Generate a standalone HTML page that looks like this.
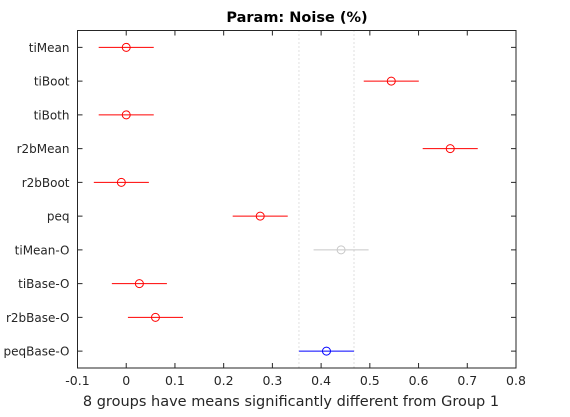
<!DOCTYPE html>
<html><head><meta charset="utf-8"><style>
body{margin:0;background:#fff;font-family:"DejaVu Sans",sans-serif}
svg text{font-family:"DejaVu Sans",sans-serif;fill:#262626}
</style></head><body>
<svg width="570" height="413" xmlns="http://www.w3.org/2000/svg">
<rect width="570" height="413" fill="#fff"/>
<text x="297" y="22" text-anchor="middle" font-weight="bold" font-size="14.5" style="fill:#000">Param: Noise (%)</text>
<g id="plot"></g>
<text x="291" y="406" text-anchor="middle" font-size="14.5">8 groups have means significantly different from Group 1</text>
</svg>
<script>
const groups=["tiMean","tiBoot","tiBoth","r2bMean","r2bBoot","peq","tiMean-O","tiBase-O","r2bBase-O","peqBase-O"];
const means=[0,0.544,0,0.665,-0.01,0.275,0.441,0.027,0.06,0.411];
const halfWidths=[0.0565,0.0565,0.0565,0.0565,0.0565,0.0565,0.0565,0.0565,0.0565,0.0565];
const status=["sig","sig","sig","sig","sig","sig","ns","sig","sig","sel"];
const xTicks=[-0.1,0,0.1,0.2,0.3,0.4,0.5,0.6,0.7,0.8];
const xTickLabels=["-0.1","0","0.1","0.2","0.3","0.4","0.5","0.6","0.7","0.8"];
const selectedIndex=9;

const L=77.5,R=516,T=30.5,B=368;
const xs=v=>L+(v+0.1)/0.9*(R-L);
const ys=i=>T+(i+0.5)/groups.length*(B-T);
const NS="http://www.w3.org/2000/svg";
const g=document.getElementById('plot');
function mk(tag,attrs){const e=document.createElementNS(NS,tag);for(const k in attrs)e.setAttribute(k,attrs[k]);g.appendChild(e);return e;}
const colors={sig:"#ff0000",ns:"#c8c8c8",sel:"#0000ff"};
[means[selectedIndex]-halfWidths[selectedIndex],means[selectedIndex]+halfWidths[selectedIndex]].forEach(v=>{
 const e=mk('line',{x1:xs(v),x2:xs(v),y1:T,y2:B,stroke:"#c0c0c0","stroke-dasharray":"1,3"});
 
 
});
const box=mk('rect',{x:L,y:T,width:R-L,height:B-T,fill:"none",stroke:"#262626","stroke-width":1});


xTicks.forEach((v,i)=>{
 const x=xs(v);
 mk('line',{x1:x,x2:x,y1:B,y2:B-5,stroke:"#262626"});
 mk('line',{x1:x,x2:x,y1:T,y2:T+5,stroke:"#262626"});
 const t=mk('text',{x:x,y:B+17,"text-anchor":"middle","font-size":12.5});
 t.textContent=xTickLabels[i];
 
 
});
groups.forEach((name,i)=>{
 const y=ys(i);
 mk('line',{x1:L,x2:L+5,y1:y,y2:y,stroke:"#262626"});
 mk('line',{x1:R,x2:R-5,y1:y,y2:y,stroke:"#262626"});
 const t=mk('text',{x:L-8,y:y+4.5,"text-anchor":"end","font-size":12});
 t.textContent=name;
 
 
 const c=colors[status[i]];
 const ln=mk('line',{x1:xs(means[i]-halfWidths[i]),x2:xs(means[i]+halfWidths[i]),y1:y,y2:y,stroke:c,"stroke-width":1});
 
 
 const m=mk('circle',{cx:xs(means[i]),cy:y,r:4,fill:"none",stroke:c,"stroke-width":1});
 
 
});
</script>
</body></html>
